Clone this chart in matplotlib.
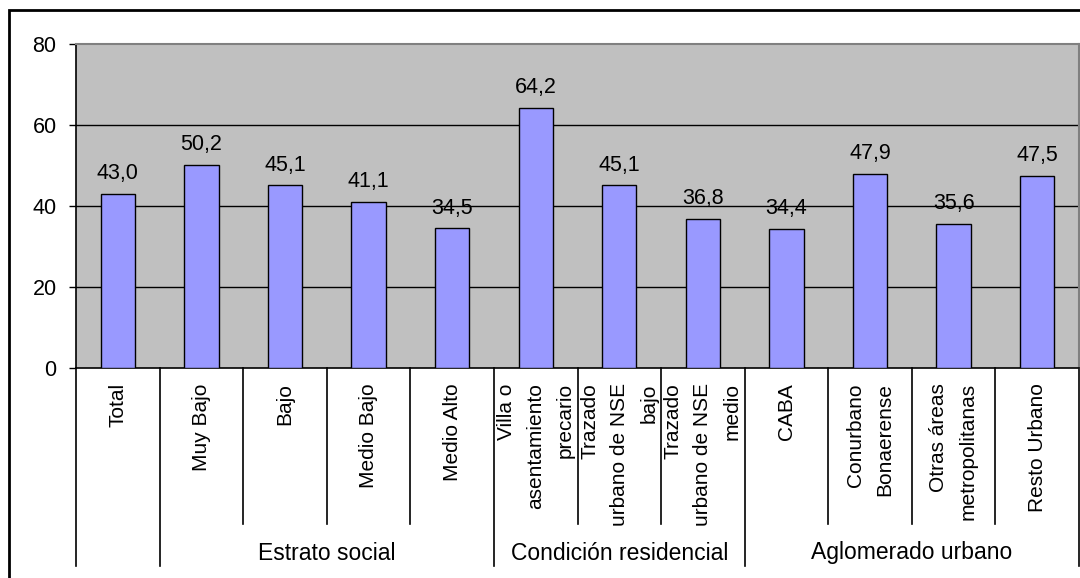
"""
Bar chart by category with grouped axis (Excel-style), values in %.
"""
import matplotlib.pyplot as plt
from matplotlib.patches import Rectangle
from matplotlib.transforms import blended_transform_factory

plt.rcParams["font.family"] = ["Liberation Sans", "DejaVu Sans"]

categories = [
    "Total", "Muy Bajo", "Bajo", "Medio Bajo", "Medio Alto",
    "Villa o\nasentamiento\nprecario", "Trazado\nurbano de NSE\nbajo",
    "Trazado\nurbano de NSE\nmedio", "CABA", "Conurbano\nBonaerense",
    "Otras áreas\nmetropolitanas", "Resto Urbano",
]
values = [43.0, 50.2, 45.1, 41.1, 34.5, 64.2, 45.1, 36.8, 34.4, 47.9, 35.6, 47.5]
groups = ["Estrato social", "Condición residencial", "Aglomerado urbano"]
group_spans = [(1, 4), (5, 7), (8, 11)]   # first/last category index of each group

W, H = 1080, 578
fig = plt.figure(figsize=(W / 100, H / 100), dpi=100)
ax = fig.add_axes([76 / W, 1 - 368 / H, (1079 - 76) / W, (368 - 44) / H])

# outer chart border (right/bottom fall outside the picture)
fig.patches.append(Rectangle((9 / W, -0.05), 1.2, 1 - 10 / H + 0.05,
                             transform=fig.transFigure, fill=False,
                             ec="black", lw=2))

ax.set_facecolor("#C0C0C0")
x = range(len(categories))
bars = ax.bar(x, values, width=0.41, color="#9999FF", edgecolor="black",
              linewidth=1, zorder=3)
for xi, v in zip(x, values):
    ax.annotate(f"{v:.1f}".replace(".", ","), (xi, v), xytext=(0, 7),
                textcoords="offset points", ha="center", va="bottom",
                fontsize=15.5)

ax.set_xlim(-0.5, len(categories) - 0.5)
ax.set_ylim(0, 80)
ax.set_yticks([0, 20, 40, 60, 80])
ax.tick_params(axis="y", direction="out", length=5, width=1, pad=9,
               labelsize=15.5)
for yv in (20, 40, 60):
    ax.axhline(yv, color="black", lw=1, zorder=1)

ax.set_xticks(list(x))
ax.set_xticklabels(categories, rotation=90, va="top", ha="center",
                   multialignment="right", fontsize=15, linespacing=1.7)
ax.tick_params(axis="x", length=0, pad=11)

for s in ("top", "right"):
    ax.spines[s].set_color("#808080")
    ax.spines[s].set_linewidth(1.5)
for s in ("left", "bottom"):
    ax.spines[s].set_color("black")
    ax.spines[s].set_linewidth(1.2)

# category separators below the axis
tr = blended_transform_factory(ax.transData, ax.transAxes)
group_edges = {g[0] - 0.5 for g in group_spans} | {len(categories) - 0.5, -0.5}
short, long_ = -(524 - 368) / 324, -(566 - 368) / 324
for k in range(len(categories) + 1):
    xb = k - 0.5
    y0 = long_ if xb in group_edges else short
    ax.plot([xb, xb], [0, y0], color="black", lw=1.2, transform=tr,
            clip_on=False)

for name, (a, b) in zip(groups, group_spans):
    ax.text((a + b) / 2, -(553 - 368) / 324, name, transform=tr,
            ha="center", va="center", fontsize=16.5)

fig.savefig("out.png", dpi=100)
